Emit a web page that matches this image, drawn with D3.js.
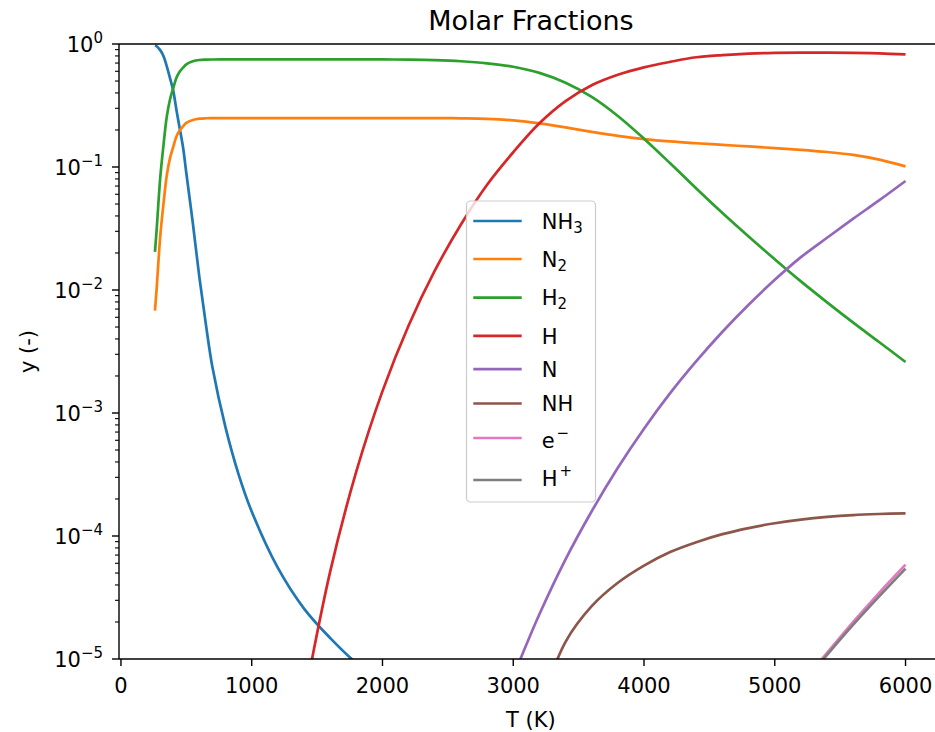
<!DOCTYPE html>
<html><head><meta charset="utf-8">
<script src="https://cdn.jsdelivr.net/npm/d3@7"></script>
<style>
body{margin:0;background:#fff;}
svg{display:block;font-family:"DejaVu Sans",sans-serif;}
</style></head><body>
<svg id="chart" width="935" height="732"></svg>
<script>
// ---- data ----
const temperature = [260,273,300,325,350,375,400,425,450,475,
  500,550,600,650,700,800,900,1000,1200,1400,
  1600,1800,2000,2200,2400,2600,2800,3000,3200,3400,
  3600,3800,4000,4200,4400,4600,4800,5000,5200,5400,
  5600,5800,6000];
const yNH3 = [0.973,0.959,0.892,0.80,0.66,0.528,0.416,0.288,0.204,0.144,
  0.089,0.0347,0.0126,0.0052,0.00234,7.6e-4,3.16e-4,1.58e-4,5.5e-5,2.57e-5,
  1.48e-5,9.3e-6,6.8e-6,null,null,null,null,null,null,null,
  null,null,null,null,null,null,null,null,null,null,
  null,null,null];
const yN2 = [0.0068,0.0103,0.027,0.05,0.085,0.118,0.146,0.178,0.199,0.214,
  0.228,0.241,0.247,0.249,0.2494,0.2498,0.2499,0.25,0.25,0.25,
  0.25,0.25,0.25,0.2499,0.2497,0.2489,0.2466,0.2393,0.2265,0.2099,
  0.1932,0.1791,0.1687,0.1614,0.156,0.1514,0.1469,0.1426,0.138,0.1324,
  0.1253,0.1148,0.1012];
const yH2 = [0.0204,0.031,0.081,0.15,0.255,0.354,0.438,0.534,0.597,0.642,
  0.683,0.724,0.741,0.746,0.748,0.749,0.7499,0.75,0.75,0.75,
  0.75,0.7497,0.749,0.7464,0.7396,0.7244,0.6966,0.6531,0.5821,0.4842,
  0.3715,0.2600,0.1698,0.1072,0.0668,0.0422,0.0272,0.01778,0.01175,0.00794,
  0.00543,0.00376,0.0026];
const yH = [null,null,null,null,null,null,null,null,null,null,
  null,null,null,null,null,null,null,null,null,4.58e-6,
  5.13e-5,3.35e-4,1.507e-3,5.15e-3,0.01435,0.0341,0.0718,0.1318,0.2265,0.343,
  0.462,0.562,0.646,0.716,0.780,0.813,0.836,0.847,0.851,0.851,
  0.847,0.838,0.824];
const yN = [null,null,null,null,null,null,null,null,null,null,
  null,null,null,null,null,null,null,null,null,null,
  null,null,null,null,null,null,null,7.2e-6,2.31e-5,6.46e-5,
  1.59e-4,3.59e-4,7.46e-4,1.45e-3,2.64e-3,4.58e-3,7.59e-3,0.0121,0.0185,0.0266,
  0.038,0.0537,0.0769];
const yNH = [null,null,null,null,null,null,null,null,null,null,
  null,null,null,null,null,null,null,null,null,null,
  null,null,null,null,null,null,null,null,3.98e-6,1.38e-5,
  2.69e-5,4.17e-5,5.75e-5,7.41e-5,8.91e-5,1.035e-4,1.16e-4,1.27e-4,1.36e-4,1.43e-4,
  1.48e-4,1.51e-4,1.53e-4];
const yElectron = [null,null,null,null,null,null,null,null,null,null,
  null,null,null,null,null,null,null,null,null,null,
  null,null,null,null,null,null,null,null,null,null,
  null,null,null,null,null,null,null,null,6.3e-6,1.12e-5,
  2.0e-5,3.47e-5,5.85e-5];
const yHplus = [null,null,null,null,null,null,null,null,null,null,
  null,null,null,null,null,null,null,null,null,null,
  null,null,null,null,null,null,null,null,null,null,
  null,null,null,null,null,null,null,null,6.0e-6,1.08e-5,
  1.9e-5,3.24e-5,5.43e-5];

// legend labels: [base, subscript, superscript]
const seriesLabels = [["NH","3",""],["N","2",""],["H","2",""],["H","",""],
  ["N","",""],["NH","",""],["e","","\u2212"],["H","","+"]];
const seriesValues = [yNH3,yN2,yH2,yH,yN,yNH,yElectron,yHplus];
const colors = ["#1f77b4","#ff7f0e","#2ca02c","#d62728","#9467bd","#8c564b","#e377c2","#7f7f7f"];
const xTicks = [0,1000,2000,3000,4000,5000,6000];
const yTickExps = [0,-1,-2,-3,-4,-5];

// ---- layout ----
const svg = d3.select("#chart");
const L = 119, R = 942.8, T = 44, B = 659;
const x = d3.scaleLinear().domain([-15, 6285]).range([L, R]);
const y = d3.scaleLog().domain([1e-5, 1]).range([B, T]);

svg.append("defs").append("clipPath").attr("id","plotclip")
  .append("rect").attr("x",L).attr("y",T).attr("width",R-L).attr("height",B-T);

const line = d3.line()
  .defined(d => d[1] != null)
  .x(d => x(d[0])).y(d => y(d[1]))
  .curve(d3.curveCatmullRom.alpha(0.5));

const g = svg.append("g").attr("clip-path","url(#plotclip)");
seriesValues.forEach((vals,i) => {
  const pts = temperature.map((t,j) => [t, vals[j]]);
  g.append("path").attr("d", line(pts))
    .attr("fill","none").attr("stroke",colors[i])
    .attr("stroke-width",2.7).attr("stroke-linejoin","round").attr("stroke-linecap","butt");
});

// spines
const ax = svg.append("g").attr("stroke","#000").attr("stroke-width",1.4);
ax.append("line").attr("x1",L).attr("x2",L).attr("y1",T).attr("y2",B);
ax.append("line").attr("x1",L).attr("x2",R).attr("y1",T).attr("y2",T);
ax.append("line").attr("x1",L).attr("x2",R).attr("y1",B).attr("y2",B);
ax.append("line").attr("x1",R).attr("x2",R).attr("y1",T).attr("y2",B);

// x ticks
xTicks.forEach(v => {
  ax.append("line").attr("x1",x(v)).attr("x2",x(v)).attr("y1",B).attr("y2",B+7);
  svg.append("text").attr("x",x(v)).attr("y",693).attr("text-anchor","middle")
    .attr("font-size",21).attr("fill","#000").text(v);
});
// y ticks
yTickExps.forEach(e => {
  const v = Math.pow(10,e);
  ax.append("line").attr("x1",L-7).attr("x2",L).attr("y1",y(v)).attr("y2",y(v));
  const t = svg.append("text").attr("x",103).attr("y",y(v)+7.7).attr("text-anchor","end")
    .attr("font-size",21).attr("fill","#000");
  t.append("tspan").text("10");
  t.append("tspan").attr("font-size",15).attr("dy",-9).text(e===0?"0":"\u2212"+(-e));
  if (e > -5) {
    for (let k=2;k<=9;k++){
      const mv = k*Math.pow(10,e-1);
      ax.append("line").attr("x1",L-4).attr("x2",L).attr("y1",y(mv)).attr("y2",y(mv))
        .attr("stroke-width",1.1);
    }
  }
});

// labels
svg.append("text").attr("x",(L+R)/2).attr("y",30).attr("text-anchor","middle")
  .attr("font-size",27).attr("fill","#000").text("Molar Fractions");
svg.append("text").attr("x",(L+R)/2).attr("y",727).attr("text-anchor","middle")
  .attr("font-size",21).attr("fill","#000").text("T (K)");
svg.append("text").attr("transform",`translate(35,${(T+B)/2}) rotate(-90)`)
  .attr("text-anchor","middle").attr("font-size",21).attr("fill","#000").text("y (-)");

// legend
const lg = svg.append("g");
lg.append("rect").attr("x",466.5).attr("y",201).attr("width",129).attr("height",301)
  .attr("rx",4).attr("fill","#fff").attr("fill-opacity",0.8)
  .attr("stroke","#cccccc").attr("stroke-width",1.2);
const rowY = [221,259,297.6,335.8,369.2,403.5,438,480];
const baseOff = [7.5,7.5,7.5,7.7,7.7,7.7,10,6];
seriesLabels.forEach((lab,i) => {
  lg.append("line").attr("x1",473.3).attr("x2",521.7).attr("y1",rowY[i]).attr("y2",rowY[i])
    .attr("stroke",colors[i]).attr("stroke-width",2.7);
  const t = lg.append("text").attr("x",541.7).attr("y",rowY[i]+baseOff[i])
    .attr("font-size",21).attr("fill","#000");
  t.append("tspan").text(lab[0]);
  if (lab[1]) t.append("tspan").attr("font-size",15).attr("dy",4).text(lab[1]);
  if (lab[2]) t.append("tspan").attr("font-size",15).attr("dx",2).attr("dy",-10).text(lab[2]);
});
</script>
</body></html>
